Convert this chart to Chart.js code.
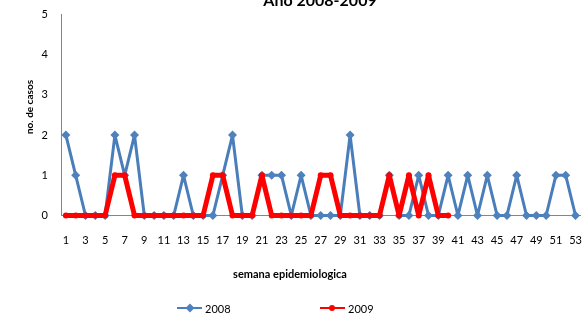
<!doctype html>
<html lang="es">
<head>
    <meta charset="utf-8">
    <title>Año 2008-2009</title>
    <script src="https://cdn.jsdelivr.net/npm/chart.js"></script>
    <style>
        html, body { margin: 0; padding: 0; background: #fff; overflow: hidden; width: 587px; height: 317px; }
        #wrap { position: absolute; left: 0; top: -20px; width: 600px; height: 337px; }
    </style>
</head>
<body>
<div id="wrap">
    <canvas id="casos" width="600" height="337"></canvas>
</div>
<script>
    // semanas epidemiologicas 1..53
    var semanas = [];
    for (var i = 1; i <= 53; i++) semanas.push(String(i));

    var casos2008 = [2, 1, 0, 0, 0, 2, 1, 2, 0, 0, 0, 0, 1, 0, 0, 0, 1, 2, 0, 0,
        1, 1, 1, 0, 1, 0, 0, 0, 0, 2, 0, 0, 0, 1, 0, 0, 1, 0, 0, 1,
        0, 1, 0, 1, 0, 0, 1, 0, 0, 0, 1, 1, 0];
    var casos2009 = [0, 0, 0, 0, 0, 1, 1, 0, 0, 0, 0, 0, 0, 0, 0, 1, 1, 0, 0, 0,
        1, 0, 0, 0, 0, 0, 1, 1, 0, 0, 0, 0, 0, 1, 0, 1, 0, 1, 0, 0];

    var titulo = 'Año 2008-2009';
    var tituloX = 'semana epidemiologica';
    var tituloY = 'no. de casos';

    var azul = '#4A7EBB';
    var azulMarca = '#4F81BD';
    var rojo = '#FF0000';
    var fuente = "Lato, 'Open Sans', sans-serif";
    var gris = '#868686';

    // titles and legend drawn at fixed spots (chart is cropped in the original)
    var textos = {
        id: 'textos',
        afterDraw: function (chart) {
            var ctx = chart.ctx;
            ctx.save();
            ctx.fillStyle = '#000';
            ctx.textAlign = 'center';
            ctx.textBaseline = 'alphabetic';
            ctx.font = 'bold 16px ' + fuente;
            ctx.fillText(titulo, 320, 25.5);

            ctx.textBaseline = 'middle';
            ctx.font = 'bold 11px ' + fuente;
            ctx.fillText(tituloX, 290, 294);

            ctx.save();
            ctx.translate(30, 127);
            ctx.rotate(-Math.PI / 2);
            ctx.font = 'bold 10px ' + fuente;
            ctx.fillText(tituloY, 0, 0);
            ctx.restore();

            // legend
            var y = 328;
            ctx.lineWidth = 2;
            ctx.strokeStyle = azul;
            ctx.beginPath();
            ctx.moveTo(177, y);
            ctx.lineTo(202, y);
            ctx.stroke();
            ctx.fillStyle = azulMarca;
            ctx.beginPath();
            ctx.moveTo(190, y - 4.5);
            ctx.lineTo(194.5, y);
            ctx.lineTo(190, y + 4.5);
            ctx.lineTo(185.5, y);
            ctx.closePath();
            ctx.fill();

            ctx.strokeStyle = rojo;
            ctx.beginPath();
            ctx.moveTo(320, y);
            ctx.lineTo(345, y);
            ctx.stroke();
            ctx.fillStyle = rojo;
            ctx.beginPath();
            ctx.arc(332, y, 3, 0, Math.PI * 2);
            ctx.fill();

            ctx.fillStyle = '#000';
            ctx.textAlign = 'left';
            ctx.font = '11px ' + fuente;
            ctx.fillText(chart.data.datasets[0].label, 205, y + 1);
            ctx.fillText(chart.data.datasets[1].label, 348, y + 1);
            ctx.restore();
        }
    };

    var ctx = document.getElementById('casos');
    var grafico = new Chart(ctx, {
        type: 'line',
        data: {
            labels: semanas,
            datasets: [{
                label: '2008',
                data: casos2008,
                order: 1,
                borderColor: azul,
                backgroundColor: azulMarca,
                borderWidth: 3,
                borderJoinStyle: 'round',
                pointStyle: 'rectRot',
                pointRadius: 4.5,
                pointBorderWidth: 0,
                pointBackgroundColor: azulMarca,
                tension: 0,
                clip: false
            }, {
                label: '2009',
                data: casos2009,
                order: 0,
                borderColor: rojo,
                backgroundColor: rojo,
                borderWidth: 5,
                borderJoinStyle: 'round',
                borderCapStyle: 'round',
                pointStyle: 'circle',
                pointRadius: 3,
                pointBorderWidth: 0,
                pointBackgroundColor: rojo,
                tension: 0,
                clip: false
            }]
        },
        options: {
            responsive: false,
            animation: false,
            devicePixelRatio: 1,
            layout: {
                padding: {left: 0, right: 11, top: 34.5, bottom: 0}
            },
            scales: {
                x: {
                    offset: true,
                    grid: {display: false, drawTicks: false},
                    border: {display: true, color: gris, width: 1},
                    ticks: {
                        autoSkip: false,
                        maxRotation: 0,
                        padding: 18,
                        color: '#000',
                        font: {family: fuente, size: 11},
                        callback: function (val, idx) {
                            return idx % 2 === 0 ? this.getLabelForValue(val) : '';
                        }
                    },
                    afterFit: function (scale) { scale.height = 101.5; }
                },
                y: {
                    min: 0,
                    max: 5,
                    grid: {display: false, drawTicks: false},
                    border: {display: true, color: gris, width: 1},
                    ticks: {
                        stepSize: 1,
                        padding: 13,
                        color: '#000',
                        font: {family: fuente, size: 11}
                    },
                    afterFit: function (scale) { scale.width = 61; }
                }
            },
            plugins: {
                legend: {display: false},
                title: {display: false},
                tooltip: {enabled: false}
            }
        },
        plugins: [textos]
    });
</script>
</body>
</html>
